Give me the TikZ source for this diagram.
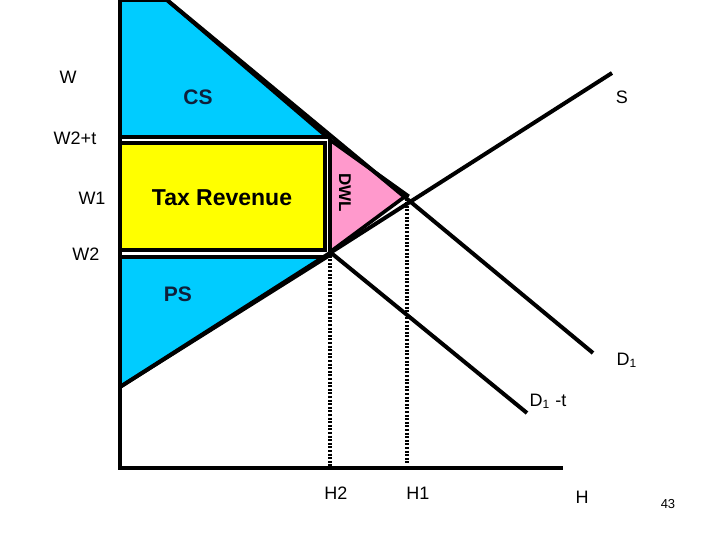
\documentclass[tikz,border=0pt]{standalone}
\usepackage{fontspec}
\setmainfont{Liberation Sans}
\usetikzlibrary{positioning}

\definecolor{surplus}{HTML}{00CCFF}
\definecolor{revenue}{HTML}{FFFF00}
\definecolor{loss}{HTML}{FF99CC}
\definecolor{navy}{HTML}{0F1F3A}

\begin{document}
\begin{tikzpicture}[x=0.5pt,y=-0.5pt,line join=miter,
   curve/.style={line width=2pt},
   area/.style={draw,line width=1.8pt},
   guide/.style={line width=2pt,dash pattern=on 1pt off 0.8pt},
   lbl/.style={font=\fontsize{9}{10}\selectfont},
   big/.style={font=\fontsize{10.5}{12}\selectfont\bfseries}] 
   \useasboundingbox (0,0) rectangle (720,540);
   \coordinate (O)  at (120,468);
   \coordinate (Yt) at (120,0);
   \coordinate (Xe) at (563,468);
   \coordinate (Dt) at (167,0);
   \coordinate (De) at (593,353);
   \coordinate (Ss) at (120,387);
   \coordinate (Se) at (612,73);
   \coordinate (E2) at (330,252);
   \coordinate (E1) at (407,195);
   \coordinate (Tt) at (327,137);
   \coordinate (Te) at (527,413);
   % areas
   \path[area,fill=surplus] (Yt) -- (Dt) -- (Tt) -- (120,137) -- cycle;
   \path[area,fill=revenue] (120,143) rectangle (325,250);
   \path[area,fill=loss] (330,140) -- (E1) -- (E2) -- cycle;
   \path[area,fill=surplus] (120,257) -- (327,257) -- (Ss) -- cycle;
   \draw[curve] (120,137) -- (330,137);
   % curves and axes
   \draw[curve] (Dt) -- (De);
   \draw[curve] (Ss) -- (Se);
   \draw[curve] (E2) -- (Te);
   \draw[curve] (Yt) -- (O) -- (Xe);
   \draw[guide] (E2) -- (330,466);
   \draw[guide] (E1) -- (407,463);
   % labels
   \node[lbl] (w)   at (68,77)  {W};
   \node[lbl] (wt)  at (75,138) {W2+t};
   \node[lbl] (w1)  at (92,198) {W1};
   \node[lbl] (w2)  at (86,254) {W2};
   \node[big,text=navy] (cs) at (198,97) {CS};
   \node[big,text=navy] (ps) at (178,294) {PS};
   \node[font=\fontsize{11.5}{13}\selectfont\bfseries] (tax) at (222,198) {Tax Revenue};
   \node[font=\fontsize{8.5}{10}\selectfont\bfseries,rotate=-90] (dwl) at (345,193) {DWL};
   \node[lbl] (s)   at (622,97)  {S};
   \node[lbl] (d1)  at (627,360) {D\textsubscript{1}};
   \node[lbl] (d1t) at (548,401) {D\textsubscript{1} -t};
   \node[lbl] (h2)  at (336,493) {H2};
   \node[lbl] (h1)  at (418,493) {H1};
   \node[lbl] (h)   at (582,497) {H};
   \node[font=\fontsize{6.5}{8}\selectfont] (pg) at (668,504) {43};
\end{tikzpicture}
\end{document}
